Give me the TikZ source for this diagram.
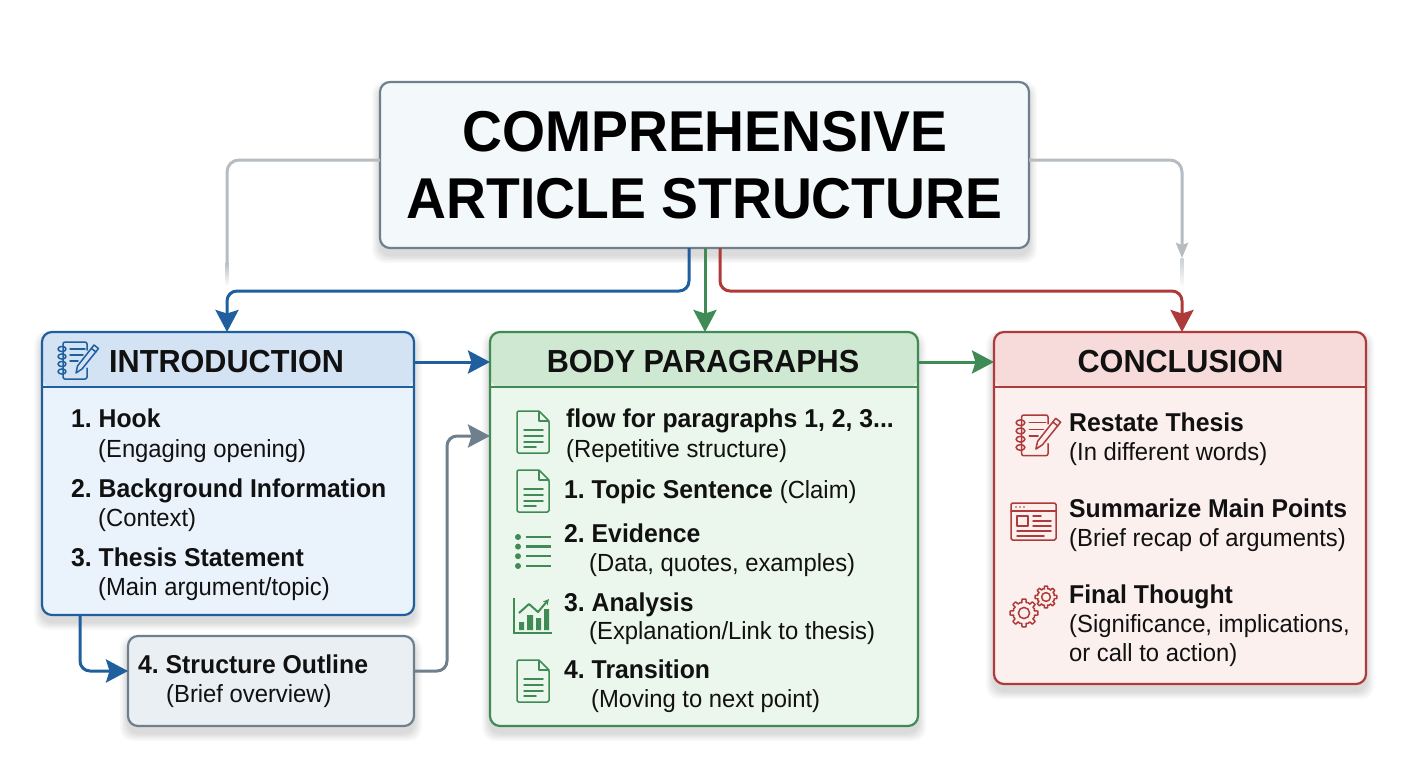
\documentclass[tikz,border=0pt]{standalone}
\usepackage{fontspec}
\setmainfont[FakeStretch=0.96]{Liberation Sans}
\usetikzlibrary{arrows.meta,calc}
\definecolor{cblue}{HTML}{1F5F9E}
\definecolor{cgreen}{HTML}{3F8A55}
\definecolor{cred}{HTML}{AE3A3A}
\definecolor{cgrey}{HTML}{6F7F8C}
\definecolor{clight}{HTML}{B5BCC2}
\definecolor{fblue}{HTML}{EAF3FC}
\definecolor{hblue}{HTML}{D3E3F4}
\definecolor{fgreen}{HTML}{EBF7EC}
\definecolor{hgreen}{HTML}{CFE8D2}
\definecolor{fred}{HTML}{FCF0EF}
\definecolor{hred}{HTML}{F7DADA}
\definecolor{ftitle}{HTML}{F3F8FB}
\definecolor{fout}{HTML}{EAEFF3}
\definecolor{ink}{HTML}{111111}
\newcommand{\softshadow}[4]{%
  \foreach \k in {1,...,6}{%
    \fill[black,opacity=0.022,rounded corners=12pt]
      ($(#1,#2)+(-\k*1.3,7-\k*1.3)$) rectangle ($(#3,#4)+(\k*1.3,7+\k*1.3)$);}}
\tikzset{
  basebox/.style={rectangle,rounded corners=10pt,line width=2.2pt,inner sep=0pt,outer sep=0pt,anchor=north west},
  headed/.style 2 args={basebox,draw=#1,fill=#2},
  hdr/.style 2 args={path picture={
     \fill[#2] (path picture bounding box.north west) rectangle ([yshift=-55pt]path picture bounding box.north east);
     \draw[#1,line width=2.2pt] ([yshift=-55pt]path picture bounding box.north west) -- ([yshift=-55pt]path picture bounding box.north east);}},
  bt/.style={anchor=base west,inner sep=0pt,text=ink,font=\fontsize{25.8}{30}\selectfont\bfseries\frenchspacing},
  rt/.style={anchor=base west,inner sep=0pt,text=ink,font=\fontsize{24.8}{30}\selectfont\frenchspacing},
  head/.style={anchor=base,inner sep=0pt,text=ink,font=\fontsize{31.9}{36}\selectfont\bfseries},
  ttl/.style={anchor=base,inner sep=0pt,text=black,font=\fontsize{57.6}{60}\selectfont\bfseries},
  conn/.style={line width=3pt,rounded corners=10pt,-{Stealth[length=22pt,width=23pt,inset=3.5pt]}},
  iconln/.style={line width=1.5pt,line cap=round,line join=round},
  docicon/.pic={
    \draw[iconln,rounded corners=1.5pt] (-16,-21) -- (6,-21) -- (16,-11) -- (16,21) -- (-16,21) -- cycle;
    \draw[iconln] (6,-21) -- (6,-11) -- (16,-11);
    \draw[iconln] (-9,-2) -- (10,-2) (-9,4) -- (10,4) (-9,10) -- (10,10) (-9,15) -- (3,15);
  },
  notebook/.pic={
    \draw[iconln,rounded corners=2pt] (30,8) -- (30,0) -- (6,0) -- (6,37) -- (30,37) -- (30,26);
    \foreach \yy in {7,14.5,22,29.5}{\draw[iconln] (5,\yy) ellipse (4 and 2.6);}
    \draw[iconln] (13,7) -- (28,7) (13,13) -- (26,13) (13,19) -- (21,19);
    \draw[iconln] (37,3) -- (41.5,6.5) -- (25,27) -- (19,31) -- (20.5,24) -- cycle;
    \draw[iconln] (34.5,6.5) -- (39,10);
  },
  listicon/.pic={
    \foreach \yy in {0,9.6,19.2,29}{
      \fill (0,\yy) circle (3);
      \draw[line width=2.4pt] (8,\yy) -- (33,\yy);}
  },
  charticon/.pic={
    \draw[line width=1.7pt] (0,0) -- (0,35) -- (38,35);
    \fill (5,24) rectangle (10,32) (13,17) rectangle (19,32) (22,20) rectangle (27,32) (30,11) rectangle (35,32);
    \draw[line width=2pt,line join=round,-{Stealth[length=6pt,width=6pt]}] (5,15) -- (15,6) -- (24,14) -- (35,1);
  },
  windowicon/.pic={
    \draw[iconln,rounded corners=1.5pt] (0,0) rectangle (45,37);
    \draw[iconln] (0,8) -- (45,8);
    \foreach \xx in {5,9,13}{\fill (\xx,4) circle (.9);}
    \draw[iconln] (6,13) rectangle (17,23);
    \draw[iconln] (22,13) -- (30,13) (22,18) -- (40,18) (22,23) -- (40,23) (6,28) -- (40,28) (6,33) -- (33,33);
  },
  gearicon/.pic={
    \foreach \a in {0,45,...,315}{
      \draw[iconln] ({\a-12}:{#1*.76}) -- ({\a-8}:{#1}) -- ({\a+8}:{#1}) -- ({\a+12}:{#1*.76}) -- ({\a+22.5}:{#1*.8}) -- ({\a+33}:{#1*.76});}
    \draw[iconln] (0,0) circle (#1*.4);
  },
}
\begin{document}
\begin{tikzpicture}[x=1pt,y=-1pt]
\useasboundingbox (0,0) rectangle (1408,768);
\fill[white] (0,0) rectangle (1408,768);
% shadows
\softshadow{380}{82}{1029}{248}
\softshadow{42}{332}{414}{615}
\softshadow{128}{636}{414}{726}
\softshadow{490}{332}{918}{726}
\softshadow{994}{332}{1366}{684}
% boxes
\node[basebox,draw=cgrey,fill=ftitle,minimum width=649pt,minimum height=166pt] (title) at (380,82) {};
\node[headed={cblue}{fblue},hdr={cblue}{hblue},minimum width=372pt,minimum height=283pt] (intro) at (42,332) {};
\node[basebox,draw=cgrey,fill=fout,minimum width=286pt,minimum height=90pt] (outline) at (128,636) {};
\node[headed={cgreen}{fgreen},hdr={cgreen}{hgreen},minimum width=428pt,minimum height=394pt] (body) at (490,332) {};
\node[headed={cred}{fred},hdr={cred}{hred},minimum width=372pt,minimum height=352pt] (concl) at (994,332) {};
% connector ends
\coordinate (greyL) at (227,262);
\coordinate (greyR) at (1182,258);
% connectors
\draw[clight,line width=3pt,rounded corners=12pt] (title.west |- 0,160) -- (227,160) -- (greyL);
\shade[top color=clight,bottom color=white] (225.5,262) rectangle (228.5,286);
\draw[clight,line width=3pt,rounded corners=12pt,-{Stealth[length=15pt,width=12pt,inset=2pt]}] (title.east |- 0,160) -- (1182,160) -- (greyR);
\shade[top color=clight!70,bottom color=white] (1180.5,258) rectangle (1183.5,288);
\draw[conn,cblue] ([xshift=-15.5pt]title.south) -- (689,291) -- (227,291) -- (intro.north -| 227,0);
\draw[conn,cgreen] ([xshift=0.5pt]title.south) -- (body.north -| 705,0);
\draw[conn,cred] ([xshift=15.5pt]title.south) -- (720,291) -- (1182,291) -- (concl.north -| 1182,0);
\draw[conn,cblue] (intro.east |- 0,362) -- (body.west |- 0,362);
\draw[conn,cblue] (intro.south -| 80,0) -- (80,671) -- (outline.west |- 0,671);
\draw[conn,cgrey] (outline.east |- 0,671) -- (447,671) -- (447,436) -- (body.west |- 0,436);
\draw[conn,cgreen] (body.east |- 0,362) -- (concl.west |- 0,362);
% title
\node[ttl] (t1) at (705,151) {COMPREHENSIVE};
\node[ttl] (t2) at (704.5,218) {ARTICLE STRUCTURE};
% headers
\node[head,anchor=base west] (h1) at (109,372) {INTRODUCTION};
\node[head] (h2) at (703,372) {BODY PARAGRAPHS};
\node[head] (h3) at (1180.5,372) {CONCLUSION};
% intro text
\node[bt] (i1) at (71,427) {1. Hook};
\node[rt] (i1b) at (98,457) {(Engaging opening)};
\node[bt] (i2) at (71,497) {2. Background Information};
\node[rt] (i2b) at (98,526) {(Context)};
\node[bt] (i3) at (71,566) {3. Thesis Statement};
\node[rt] (i3b) at (98,595) {(Main argument/topic)};
\node[bt] (o1) at (138,673) {4. Structure Outline};
\node[rt] (o1b) at (166,702) {(Brief overview)};
% body text
\node[bt] (b0) at (566,427) {flow for paragraphs 1, 2, 3...};
\node[rt] (b0b) at (566,457) {(Repetitive structure)};
\node[bt] (b1) at (564,498) {1. Topic Sentence \fontseries{m}\fontsize{24.8}{30}\selectfont (Claim)};
\node[bt] (b2) at (564,542) {2. Evidence};
\node[rt] (b2b) at (589,571) {(Data, quotes, examples)};
\node[bt] (b3) at (564,611) {3. Analysis};
\node[rt] (b3b) at (589,639) {(Explanation/Link to thesis)};
\node[bt] (b4) at (564,678) {4. Transition};
\node[rt] (b4b) at (591,707) {(Moving to next point)};
% conclusion text
\node[bt] (c1) at (1069,431) {Restate Thesis};
\node[rt] (c1b) at (1069,460) {(In different words)};
\node[bt] (c2) at (1069,517) {Summarize Main Points};
\node[rt] (c2b) at (1069,546) {(Brief recap of arguments)};
\node[bt] (c3) at (1069,603) {Final Thought};
\node[rt] (c3b) at (1069,632) {(Significance, implications,};
\node[rt] (c3c) at (1069,661) {or call to action)};
% icons
\pic[cblue] at (57,342) {notebook};
\pic[cgreen] at (533,432) {docicon};
\pic[cgreen] at (533,491) {docicon};
\pic[cgreen] at (518,537) {listicon};
\pic[cgreen] at (514,598) {charticon};
\pic[cgreen] at (533,681) {docicon};
\pic[cred,scale=1.1] at (1015,415) {notebook};
\pic[cred] at (1011,503) {windowicon};
\pic[cred] at (1024,613) {gearicon=14};
\pic[cred] at (1046,597) {gearicon=11};
\end{tikzpicture}
\end{document}
